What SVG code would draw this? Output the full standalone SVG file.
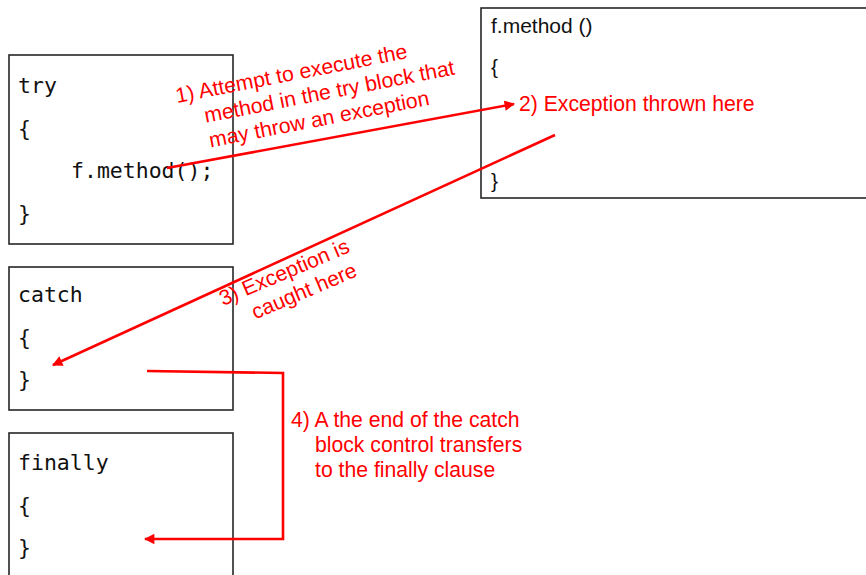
<svg xmlns="http://www.w3.org/2000/svg" width="866" height="575" viewBox="0 0 866 575">
<style>
.box{fill:#fff;stroke:#262626;stroke-width:1.6}
.code{font-family:"DejaVu Sans Mono","Liberation Mono",monospace;font-size:21.5px;fill:#111}
.sans{font-family:"Liberation Sans",Arial,sans-serif;font-size:21px;fill:#111}
.red{font-family:"Liberation Sans",Arial,sans-serif;font-size:21.2px;fill:#ff0000}
.conn{fill:none;stroke:#ff0000;stroke-width:2.6}
</style>
<defs>
<marker id="ah" viewBox="0 0 10 10" refX="9" refY="5" markerWidth="4.2" markerHeight="4" orient="auto" markerUnits="strokeWidth">
<path d="M0,0 L10,5 L0,10 z" fill="#ff0000"/>
</marker>
</defs>
<rect width="866" height="575" fill="#fff"/>
<g id="try">
<rect class="box" x="9" y="55" width="224" height="189"/>
<text class="code" x="18" y="93">try</text>
<text class="code" x="18" y="136">{</text>
<text class="code" x="71" y="178">f.method();</text>
<text class="code" x="18" y="221">}</text>
</g>
<g id="catch">
<rect class="box" x="9" y="267" width="224" height="143"/>
<text class="code" x="18" y="302">catch</text>
<text class="code" x="18" y="345">{</text>
<text class="code" x="18" y="387">}</text>
</g>
<g id="finally">
<rect class="box" x="9" y="433" width="224" height="160"/>
<text class="code" x="18" y="470">finally</text>
<text class="code" x="18" y="513">{</text>
<text class="code" x="18" y="555">}</text>
</g>
<g id="method">
<rect class="box" x="481" y="8" width="400" height="190"/>
<text class="sans" x="491" y="33">f.method ()</text>
<text class="sans" x="491" y="74">{</text>
<text class="sans" x="491" y="188">}</text>
</g>
<g id="connectors">
<line class="conn" x1="167" y1="168" x2="514" y2="104" marker-end="url(#ah)"/>
<line class="conn" x1="555" y1="135" x2="53" y2="365" marker-end="url(#ah)"/>
<polyline class="conn" points="147,371 283,373 283,539 145,539" marker-end="url(#ah)"/>
</g>
<g id="labels">
<text class="red" x="519" y="111">2) Exception thrown here</text>
<g transform="translate(177,103) rotate(-11)">
<text class="red" x="0" y="0">1) Attempt to execute the</text>
<text class="red" x="24.5" y="25">method in the try block that</text>
<text class="red" x="24.5" y="50">may throw an exception</text>
</g>
<g transform="translate(223,306) rotate(-23)">
<text class="red" x="0" y="0">3) Exception is</text>
<text class="red" x="24.5" y="25">caught here</text>
</g>
<text class="red" x="291" y="427">4) A the end of the catch</text>
<text class="red" x="315" y="452">block control transfers</text>
<text class="red" x="315" y="477">to the finally clause</text>
</g>
</svg>
